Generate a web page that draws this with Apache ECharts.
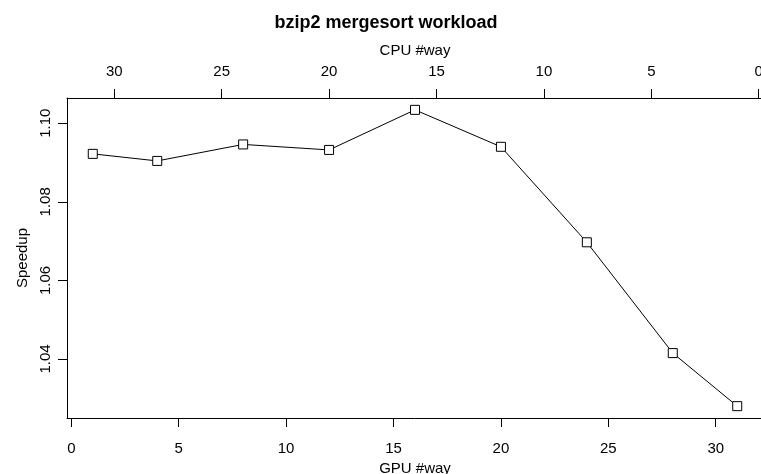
<!DOCTYPE html>
<html>
<head>
<meta charset="utf-8">
<script src="https://cdn.jsdelivr.net/npm/echarts@6/dist/echarts.min.js"></script>
<style>html,body{margin:0;padding:0;background:#fff}#c{width:761px;height:474px}</style>
</head>
<body>
<div id="c"></div>
<script>
// ---- data ----
const titleText = 'bzip2 mergesort workload';
const gpuWays = [1, 4, 8, 12, 16, 20, 24, 28, 31];
const speedup = [1.0922, 1.0904, 1.0946, 1.0932, 1.1034, 1.0940, 1.0697, 1.0415, 1.0280];
const gpuTicks = [0, 5, 10, 15, 20, 25, 30];
const cpuTicks = [0, 5, 10, 15, 20, 25, 30];
const speedupTicks = [1.04, 1.06, 1.08, 1.10];
const totalWays = 32; // CPU #way = totalWays - GPU #way

const FONT = '"Liberation Sans", Arial, Helvetica, sans-serif';
const FS = 15;

// R-style 4% axis extension
const xr = Math.max(...gpuWays) - Math.min(...gpuWays);
const xMin = Math.min(...gpuWays) - 0.04 * xr;
const xMax = Math.max(...gpuWays) + 0.04 * xr;
const yr = Math.max(...speedup) - Math.min(...speedup);
const yMin = Math.min(...speedup) - 0.04 * yr;
const yMax = Math.max(...speedup) + 0.04 * yr;

const chart = echarts.init(document.getElementById('c'), null, {renderer: 'canvas'});
const lineStyle = {color: '#000', width: 1};
chart.setOption({
  animation: false,
  backgroundColor: '#fff',
  title: {
    text: titleText, left: 381, top: 9, textAlign: 'center',
    textStyle: {fontFamily: FONT, fontSize: 18, fontWeight: 'bold', color: '#000'}
  },
  grid: {left: 67, top: 98, width: 696, height: 320, containLabel: false, outerBoundsMode: 'none'},
  xAxis: [{
    type: 'value', position: 'bottom', min: xMin, max: xMax,
    name: 'GPU #way', nameLocation: 'middle', nameGap: 39,
    nameTextStyle: {fontFamily: FONT, fontSize: FS, color: '#000'},
    axisLine: {show: true, onZero: false, lineStyle},
    axisTick: {show: true, length: 9, lineStyle, customValues: gpuTicks},
    axisLabel: {show: true, margin: 23, customValues: gpuTicks, fontFamily: FONT, fontSize: FS, color: '#000'},
    splitLine: {show: false}
  }, {
    type: 'value', position: 'top', inverse: true,
    min: totalWays - xMax, max: totalWays - xMin,
    name: 'CPU #way', nameLocation: 'middle', nameGap: 40,
    nameTextStyle: {fontFamily: FONT, fontSize: FS, color: '#000'},
    axisLine: {show: true, onZero: false, lineStyle},
    axisTick: {show: true, length: 9, lineStyle, customValues: cpuTicks},
    axisLabel: {show: true, margin: 19, customValues: cpuTicks, fontFamily: FONT, fontSize: FS, color: '#000'},
    splitLine: {show: false}
  }],
  yAxis: {
    type: 'value', min: yMin, max: yMax,
    name: 'Speedup', nameLocation: 'middle', nameGap: 31, nameRotate: 90,
    nameTextStyle: {fontFamily: FONT, fontSize: FS, color: '#000'},
    axisLine: {show: true, onZero: false, lineStyle},
    axisTick: {show: true, length: 9, lineStyle, customValues: speedupTicks},
    axisLabel: {show: true, margin: 14, rotate: 90, customValues: speedupTicks,
      formatter: v => v.toFixed(2), fontFamily: FONT, fontSize: FS, color: '#000'},
    splitLine: {show: false}
  },
  series: [{
    type: 'line', xAxisIndex: 0, yAxisIndex: 0,
    data: gpuWays.map((g, i) => [g, speedup[i]]),
    symbol: 'rect', symbolSize: 9,
    itemStyle: {color: '#fff', borderColor: '#000', borderWidth: 1},
    lineStyle: {color: '#000', width: 1},
    z: 3
  }]
});
</script>
</body>
</html>
